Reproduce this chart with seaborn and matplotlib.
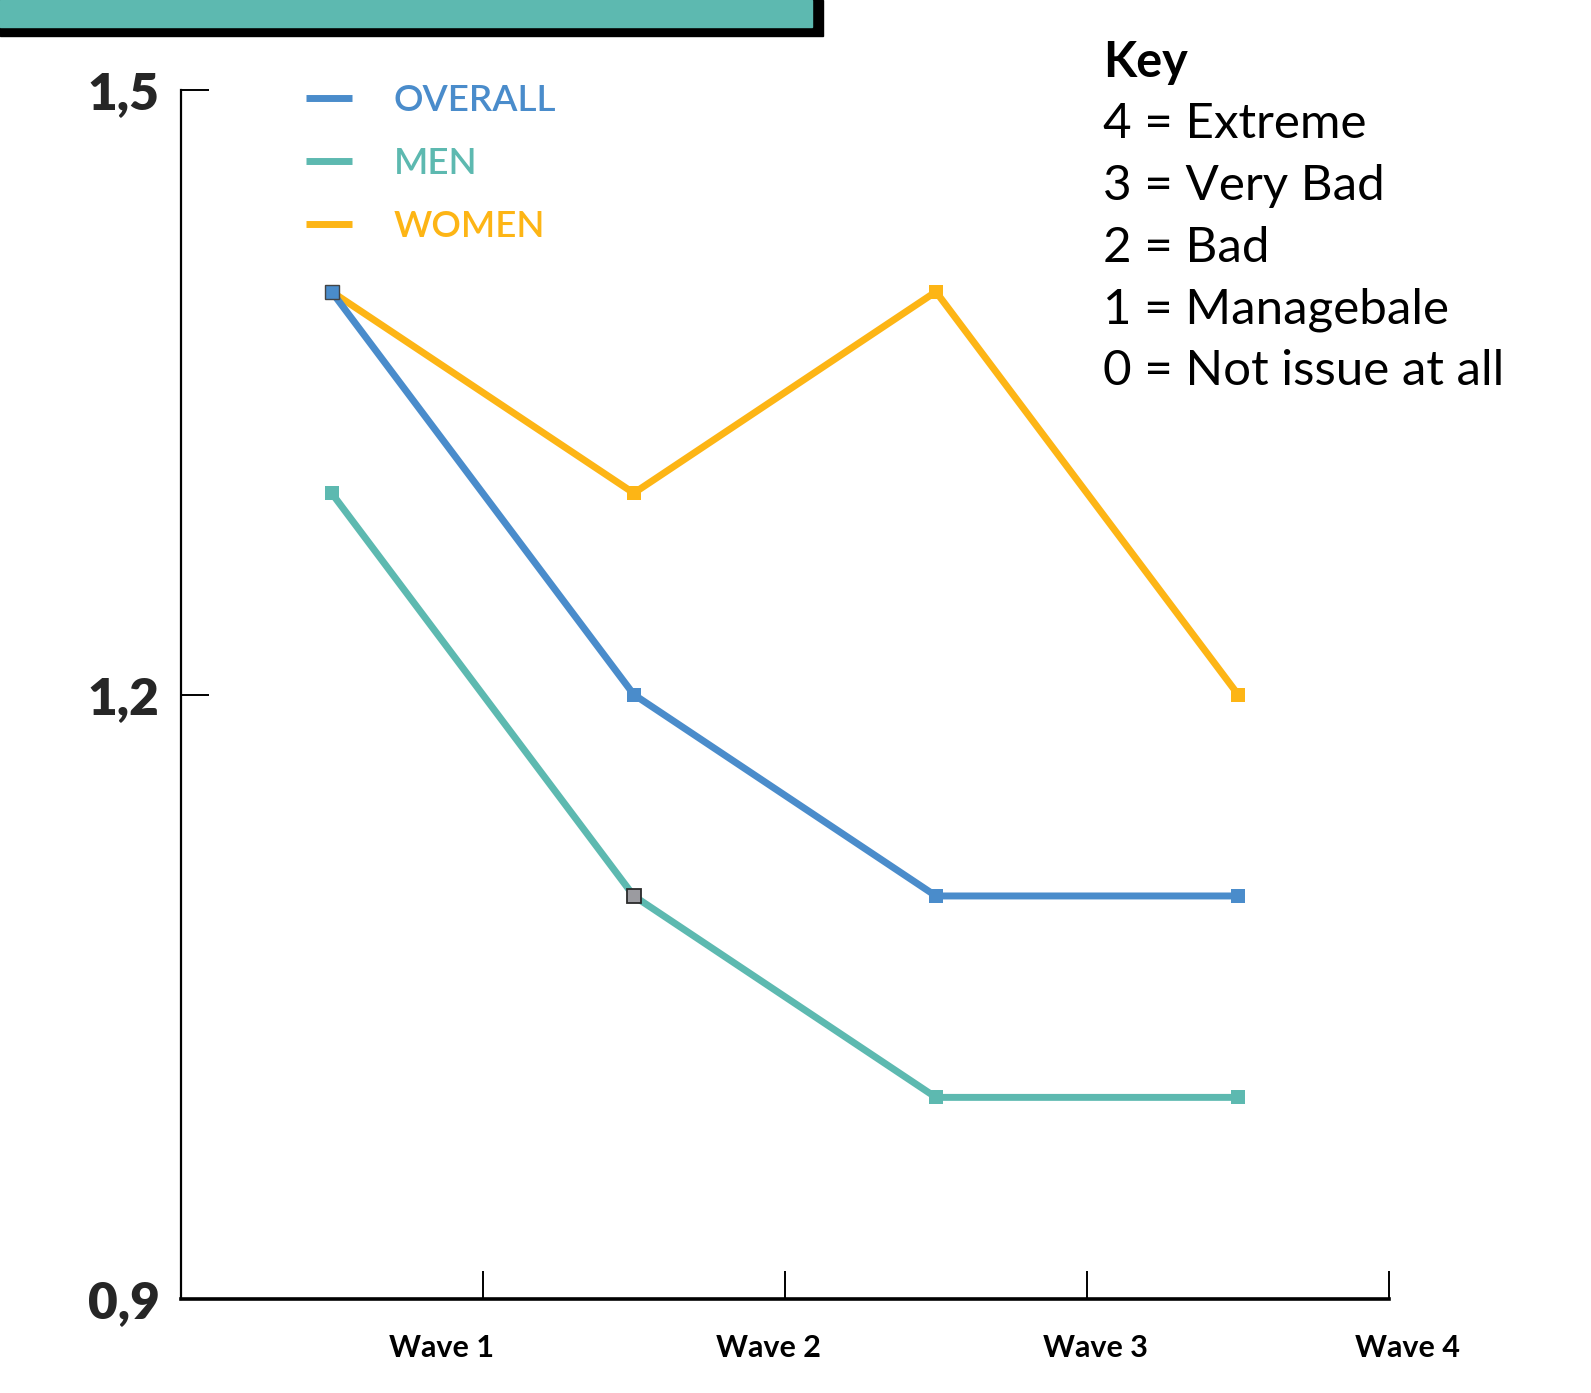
import matplotlib
matplotlib.use("Agg")
import matplotlib.pyplot as plt
import matplotlib.transforms as mtransforms
from matplotlib.lines import Line2D
from matplotlib.patches import Rectangle
import numpy as np
import seaborn as sns

# --- data ---------------------------------------------------------------
WAVES = ["Wave 1", "Wave 2", "Wave 3", "Wave 4"]
OVERALL = [1.4, 1.2, 1.1, 1.1]
MEN = [1.3, 1.1, 1.0, 1.0]
WOMEN = [1.4, 1.3, 1.4, 1.2]
Y_TICKS = [0.9, 1.2, 1.5]
Y_TICK_LABELS = ["0,9", "1,2", "1,5"]
KEY_TITLE = "Key"
KEY_LINES = [
    "4 = Extreme",
    "3 = Very Bad",
    "2 = Bad",
    "1 = Managebale",
    "0 = Not issue at all",
]

# --- style --------------------------------------------------------------
C_OVERALL = "#4A8CCB"
C_MEN = "#5DB9B0"
C_WOMEN = "#FDB515"
C_BANNER = "#5DB9B0"
LW = 5.0
MS = 9.5

sns.set_theme(style="white")
plt.rcParams["font.family"] = ["Lato", "DejaVu Sans"]

W, H = 1591, 1393
fig = plt.figure(figsize=(W / 100, H / 100), dpi=100)
ax = fig.add_axes([180.6 / W, 1 - 1298.8 / H, 1208.5 / W, 1208.5 / H])

x = np.arange(len(WAVES))

# series, drawn back to front
series = [
    ("WOMEN", WOMEN, C_WOMEN),
    ("MEN", MEN, C_MEN),
    ("OVERALL", OVERALL, C_OVERALL),
]
for name, vals, col in series:
    sns.lineplot(x=x, y=vals, color=col, linewidth=LW, marker="s",
                 markersize=MS, markeredgewidth=0, ax=ax, zorder=3)

# highlighted points
ax.plot(x[0], OVERALL[0], marker="s", markersize=MS, color=C_OVERALL,
        markeredgecolor="#444444", markeredgewidth=1.0, zorder=5)
ax.plot(x[1], MEN[1], marker="s", markersize=MS, color="#9B9BA0",
        markeredgecolor="#2a2a2a", markeredgewidth=1.3, zorder=5)

# axes
ax.set_xlim(-0.5, len(WAVES) - 0.5)
ax.set_ylim(0.9, 1.5)
ax.set_yticks(Y_TICKS)
ax.set_yticklabels(Y_TICK_LABELS, fontsize=37, fontweight="heavy")
ax.set_xticks(x + 0.5)
ax.set_xticklabels([])
ax.tick_params(axis="both", direction="in", length=20, width=1.4,
               color="black", left=True, bottom=True)
ax.tick_params(axis="y", pad=15)
for side in ("top", "right"):
    ax.spines[side].set_visible(False)
ax.spines["left"].set_linewidth(1.6)
ax.spines["bottom"].set_linewidth(2.6)
for side in ("left", "bottom"):
    ax.spines[side].set_color("black")
ax.set_xlabel("")
ax.set_ylabel("")

# wave labels under the axis
label_pos = [0.363, 1.445, 2.527, 3.561]
trans = mtransforms.blended_transform_factory(ax.transData, ax.transAxes)
for pos, lab in zip(label_pos, WAVES):
    ax.text(pos, -0.0403, lab, transform=trans, ha="center", va="center",
            fontsize=22, fontweight="bold", color="black")

# legend
handles = [Line2D([], [], color=c, linewidth=LW, solid_capstyle="butt")
           for _, _, c in series[::-1]]
labels = [n for n, _, _ in series[::-1]]
leg = ax.legend(handles, labels, loc="upper left",
                bbox_to_anchor=(306.4 / W, 1 - 83.9 / H),
                bbox_transform=fig.transFigure, frameon=False,
                prop={"size": 26.5, "weight": "semibold"},
                handlelength=1.24, handletextpad=1.13, labelspacing=0.81,
                borderpad=0, borderaxespad=0,
                labelcolor=[c for _, _, c in series[::-1]])

# key block
fig.text(1103 / W, 1 - 76.7 / H, KEY_TITLE, fontsize=35, fontweight="bold",
         ha="left", va="baseline", color="black")
for i, line in enumerate(KEY_LINES):
    fig.text(1103 / W, 1 - (138.3 + 61.7 * i) / H, line, fontsize=35.5,
             ha="left", va="baseline", color="black")

# banner at top-left
fig.patches.append(Rectangle((0, 1 - 36 / H), 823 / W, 36 / H,
                             transform=fig.transFigure, color="black",
                             zorder=0))
fig.patches.append(Rectangle((0, 1 - 27 / H), 812 / W, 27 / H,
                             transform=fig.transFigure, color=C_BANNER,
                             zorder=1))

fig.savefig("out.png", dpi=100)
